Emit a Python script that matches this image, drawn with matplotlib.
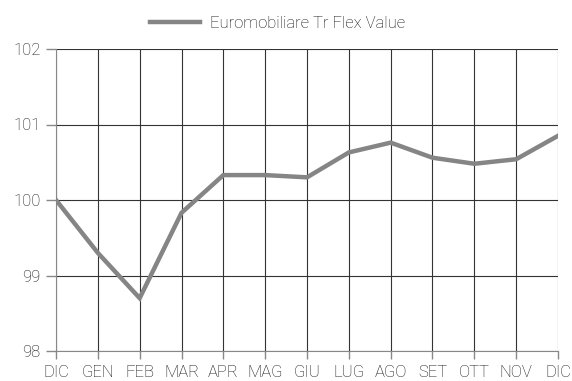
import matplotlib
matplotlib.use('Agg')
import matplotlib.pyplot as plt

months = ['DIC', 'GEN', 'FEB', 'MAR', 'APR', 'MAG', 'GIU', 'LUG', 'AGO', 'SET', 'OTT', 'NOV', 'DIC']
values = [100.0, 99.30, 98.70, 99.83, 100.33, 100.33, 100.30, 100.63, 100.76, 100.56, 100.48, 100.54, 100.85]
yticks = [98, 99, 100, 101, 102]

plt.rcParams['font.family'] = ['Roboto', 'DejaVu Sans']
plt.rcParams['font.weight'] = 'light'

fig = plt.figure(figsize=(5.72, 3.81), dpi=100)
ax = fig.add_axes([56/572, 1 - 351/381, (558 - 56)/572, (351 - 49)/381])

x = list(range(len(months)))
ax.plot(x, values, color='#858585', lw=3.2, solid_joinstyle='miter',
        label='Euromobiliare Tr Flex Value', zorder=3)

ax.set_xlim(0, len(months) - 1)
ax.set_ylim(98, 102)
ax.set_xticks(x)
ax.set_xticklabels(months)
ax.set_yticks(yticks)
ax.grid(True, color='#333333', lw=0.8)
for s in ax.spines.values():
    s.set_visible(False)
ax.spines['left'].set_visible(True)
ax.spines['left'].set_color('#888888')
ax.spines['bottom'].set_visible(True)
ax.spines['bottom'].set_color('#888888')
ax.tick_params(colors='#888888', labelcolor='#111111', labelsize=12, width=1)
ax.tick_params(axis='x', length=6, pad=4)
ax.tick_params(axis='y', length=7, pad=4)

fig.legend(loc='upper center', bbox_to_anchor=(0.485, 0.998), frameon=False,
           fontsize=12, handlelength=3.0, handletextpad=0.6, labelcolor='#111111')

fig.savefig('out.png', dpi=100)
